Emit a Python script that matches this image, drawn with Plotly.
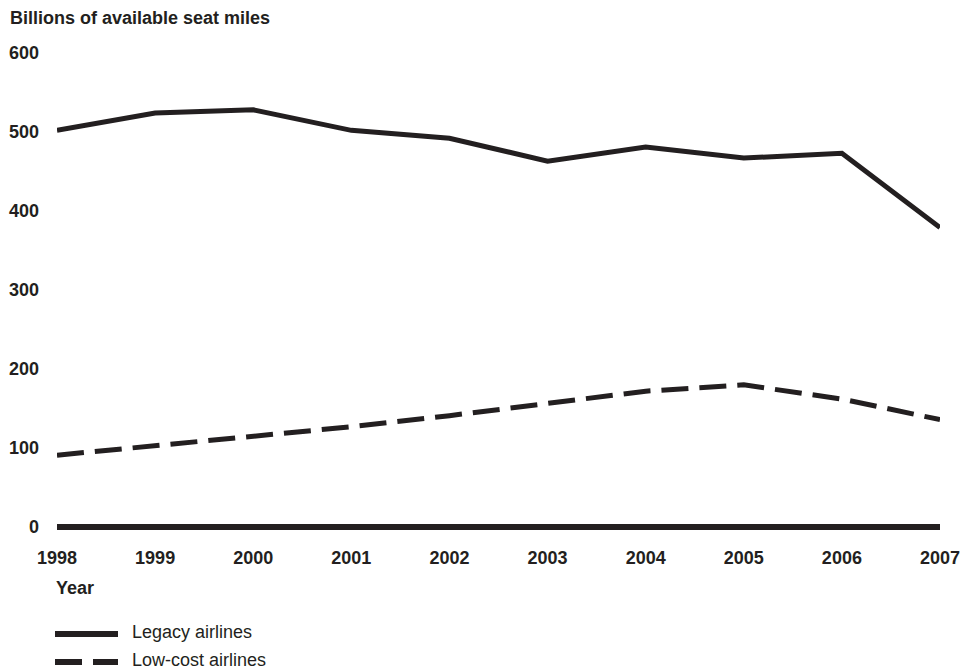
import plotly.graph_objects as go

years = [1998, 1999, 2000, 2001, 2002, 2003, 2004, 2005, 2006, 2007]
legacy = [502, 524, 528, 502, 492, 463, 481, 467, 473, 379]
low_cost = [91, 103, 116, 127, 141, 156, 172, 180, 162, 136]
y_ticks = [0, 100, 200, 300, 400, 500, 600]

INK = "#231f20"
FONT = "Liberation Sans, Arial, Helvetica, sans-serif"

W, H = 964, 671
L, R, T, B = 57, 24, 45, 136
PW, PH = W - L - R, H - T - B


def px_x(px):
    return (px - L) / PW


def px_y(py):
    return (H - B - py) / PH


fig = go.Figure()
fig.add_trace(go.Scatter(x=years, y=legacy, mode="lines", name="Legacy airlines",
                         line=dict(color=INK, width=5), showlegend=False))
fig.add_trace(go.Scatter(x=years, y=low_cost, mode="lines", name="Low-cost airlines",
                         line=dict(color=INK, width=5, dash="27px,11px"), showlegend=False))

fig.update_layout(
    width=W, height=H,
    margin=dict(l=L, r=R, t=T, b=B, pad=0, autoexpand=False),
    plot_bgcolor="white", paper_bgcolor="white",
    font=dict(family=FONT, color=INK, size=18),
    xaxis=dict(range=[1998, 2007], tickvals=years, ticktext=[str(y) for y in years],
               showgrid=False, zeroline=False, showline=False, ticks="", automargin=False,
               tickfont=dict(size=18, family=FONT, color=INK, weight="bold"),
               ticklabelstandoff=10),
    yaxis=dict(range=[-10, 610], tickvals=y_ticks, showgrid=False,
               zeroline=True, zerolinecolor=INK, zerolinewidth=6,
               showline=False, ticks="", automargin=False,
               tickfont=dict(size=18, family=FONT, color=INK, weight="bold"),
               ticklabelstandoff=17),
)

# axis titles
fig.add_annotation(text="<b>Billions of available seat miles</b>", xref="paper", yref="paper",
                   x=px_x(8), y=px_y(18), xanchor="left", yanchor="middle", showarrow=False,
                   font=dict(size=18, family=FONT, color=INK))
fig.add_annotation(text="<b>Year</b>", xref="paper", yref="paper",
                   x=px_x(54), y=px_y(588), xanchor="left", yanchor="middle", showarrow=False,
                   font=dict(size=18, family=FONT, color=INK))

# legend
legend_items = [("Legacy airlines", "solid", 634), ("Low-cost airlines", "27px,11px", 662)]
for label, dash, py in legend_items:
    fig.add_shape(type="line", xref="paper", yref="paper",
                  x0=px_x(55), x1=px_x(118), y0=px_y(py), y1=px_y(py),
                  line=dict(color=INK, width=6, dash=dash))
    fig.add_annotation(text=label, xref="paper", yref="paper",
                       x=px_x(131), y=px_y(py - 2), xanchor="left", yanchor="middle",
                       showarrow=False, borderpad=0,
                       font=dict(size=18, family=FONT, color=INK))

fig.write_html("out.html",
               config={"displayModeBar": False},
               post_script="document.body.style.margin='0';document.body.style.overflow='hidden';")
